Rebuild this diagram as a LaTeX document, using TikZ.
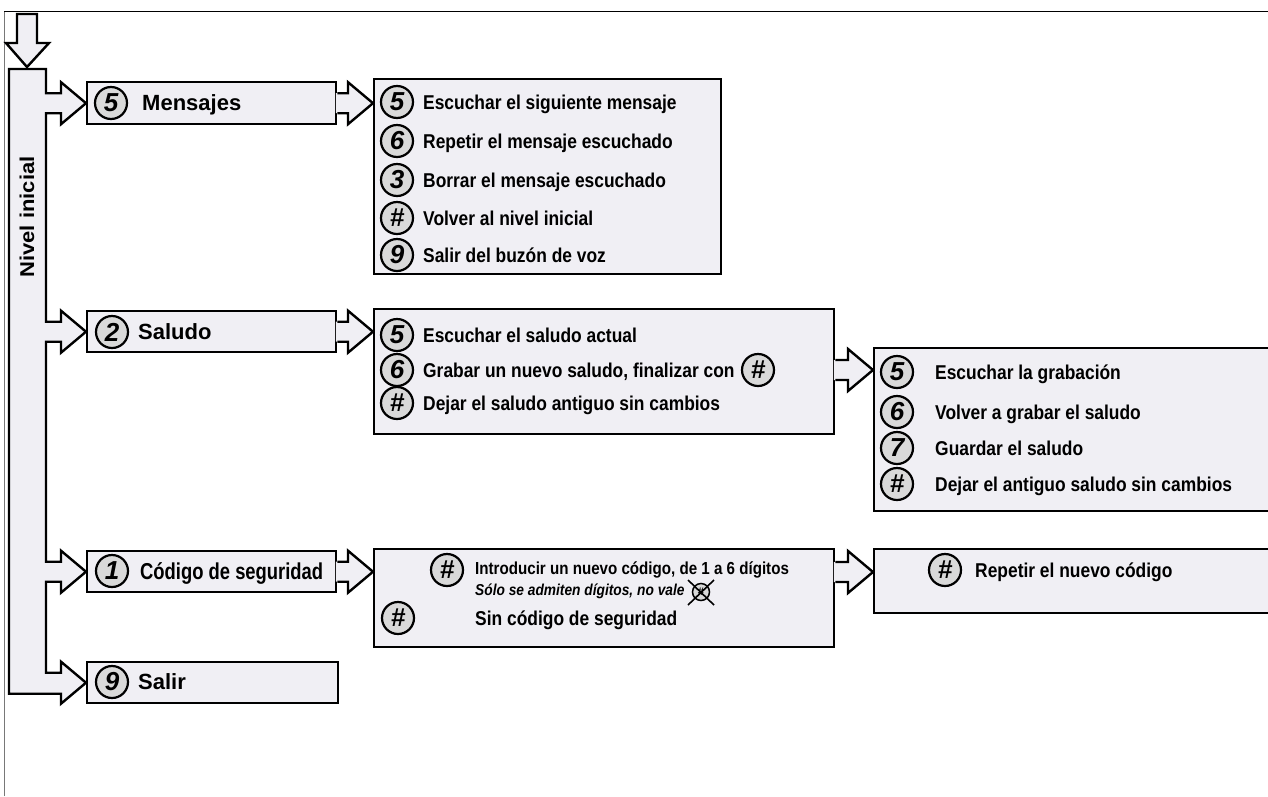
\documentclass[tikz,border=0pt]{standalone}
\usepackage{fontspec}
\setmainfont{Liberation Sans}
\newfontfamily\narrowfont{Liberation Sans}[FakeStretch=0.87]
\usetikzlibrary{calc}
\definecolor{boxfill}{RGB}{240,239,244}
\definecolor{numfill}{RGB}{217,217,217}
\definecolor{framec}{RGB}{120,120,120}
\tikzset{
  outl/.style={draw=black, line width=2.4pt, line join=miter},
  box/.style={rectangle, draw=black, fill=boxfill, line width=2.4pt, inner sep=0pt},
  num/.style={circle, draw=black, fill=numfill, line width=2.2pt, minimum size=32pt, inner sep=0pt, font=\fontsize{26}{26}\selectfont\bfseries\itshape},
  ttl/.style={anchor=base west, inner sep=0pt, font=\fontsize{22}{24}\selectfont\bfseries},
  lbl/.style={anchor=base west, inner sep=0pt, font=\narrowfont\fontsize{20}{22}\selectfont\bfseries},
  branch/.style={insert path={-- ($(#1.west)+(-40,-10)$) -- ($(#1.west)+(-25,-10)$) -- ($(#1.west)+(-25,-21)$) -- (#1.west) -- ($(#1.west)+(-25,21)$) -- ($(#1.west)+(-25,10)$) -- ($(#1.west)+(-40,10)$)}}
}
\newcommand\blockarr[2]{%
  \coordinate (bT) at (#1 -| #2.west);
  \fill[boxfill] ($(#1)+(-1.5,-10)$) -- ($(bT)+(-25,-10)$) -- ($(bT)+(-25,-21)$) -- (bT) -- ($(bT)+(-25,21)$) -- ($(bT)+(-25,10)$) -- ($(#1)+(-1.5,10)$) -- cycle;
  \draw[outl] ($(#1)+(0,-10)$) -- ($(bT)+(-25,-10)$) -- ($(bT)+(-25,-21)$) -- (bT) -- ($(bT)+(-25,21)$) -- ($(bT)+(-25,10)$) -- ($(#1)+(0,10)$);
}
\begin{document}
\begin{tikzpicture}[x=1pt,y=-1pt]
\useasboundingbox (0,0) rectangle (1268,796);
% frame
\draw[framec, line width=1pt] (4,796) -- (4,11);
\draw[black, line width=0.8pt] (4,11) -- (1268,11);
% entry arrow
\draw[outl, fill=boxfill] (17,14) -- (37,14) -- (37,43) -- (49,43) -- (27,67) -- (6,43) -- (17,43) -- cycle;

% main option boxes
\node[box, anchor=north west, minimum width=249pt, minimum height=42pt] (mens) at (86,81) {};
\node[box, anchor=north west, minimum width=249pt, minimum height=41pt] (salu) at (86,310) {};
\node[box, anchor=north west, minimum width=249pt, minimum height=41pt] (codi) at (86,550) {};
\node[box, anchor=north west, minimum width=251pt, minimum height=41pt] (salir) at (86,661) {};

% sub menus
\node[box, anchor=north west, minimum width=347pt, minimum height=195pt] (sub1) at (373,78) {};
\node[box, anchor=north west, minimum width=460pt, minimum height=125pt] (sub2) at (373,308) {};
\node[box, anchor=north west, minimum width=402pt, minimum height=163pt] (sub3) at (873,347) {};
\node[box, anchor=north west, minimum width=460pt, minimum height=98pt] (sub4) at (373,548) {};
\node[box, anchor=north west, minimum width=402pt, minimum height=64pt] (sub5) at (873,548) {};

% level bar with branches
\draw[outl, fill=boxfill] (9,69) -- (46,69) [branch=mens] [branch=salu] [branch=codi]
  -- ($(salir.west)+(-40,-10)$) -- ($(salir.west)+(-25,-10)$) -- ($(salir.west)+(-25,-21)$) -- (salir.west)
  -- ($(salir.west)+(-25,21)$) -- ($(salir.west)+(-25,11)$) -- ($(salir.west)+(-77,11)$) -- cycle;
\node[rotate=90, inner sep=0pt, font=\fontsize{20}{22}\selectfont\bfseries] (niv) at (27,217) {\scalebox{1.1}[1]{Nivel inicial}};

% block arrows
\coordinate (o1) at (mens.east);
\coordinate (o2) at (salu.east);
\coordinate (o3) at (codi.east);
\coordinate (o4) at ($(sub2.north east)+(0,62)$);
\coordinate (o5) at ($(sub4.north east)+(0,24)$);
\blockarr{o1}{sub1}
\blockarr{o2}{sub2}
\blockarr{o3}{sub4}
\blockarr{o4}{sub3}
\blockarr{o5}{sub5}

% main option labels
\node[num] (k5) at (111,103) {5};
\node[ttl] (t1) at (142,110.9) {Mensajes};
\node[num] (k2) at (112,332) {2};
\node[ttl] (t2) at (138,339.9) {Saludo};
\node[num] (k1) at (112,571) {1};
\node[ttl, font=\fontsize{23}{24}\selectfont\bfseries] (t3) at (140,579.2) {\scalebox{0.8}[1]{Código de seguridad}};
\node[num] (k9) at (112,682) {9};
\node[ttl] (t4) at (138,689.9) {Salir};

% sub1
\node[num] (a1) at (397,102) {5};
\node[lbl] (b1) at (423,109.2) {Escuchar el siguiente mensaje};
\node[num] (a2) at (397,141) {6};
\node[lbl] (b2) at (423,148.2) {Repetir el mensaje escuchado};
\node[num] (a3) at (397,180) {3};
\node[lbl] (b3) at (423,187.2) {Borrar el mensaje escuchado};
\node[num] (a4) at (397,218) {\#};
\node[lbl] (b4) at (423,225.2) {Volver al nivel inicial};
\node[num] (a5) at (397,255) {9};
\node[lbl] (b5) at (423,262.2) {Salir del buzón de voz};

% sub2
\node[num] (c1) at (397,335) {5};
\node[lbl] (d1) at (423,342.2) {Escuchar el saludo actual};
\node[num] (c2) at (397,370) {6};
\node[lbl] (d2) at (423,377.2) {Grabar un nuevo saludo, finalizar con};
\node[num] (c2b) at (758,370) {\#};
\node[num] (c3) at (397,403) {\#};
\node[lbl] (d3) at (423,410.2) {Dejar el saludo antiguo sin cambios};

% sub3
\node[num] (e1) at (897,372) {5};
\node[lbl] (f1) at (935,379.2) {Escuchar la grabación};
\node[num] (e2) at (897,412) {6};
\node[lbl] (f2) at (935,419.2) {Volver a grabar el saludo};
\node[num] (e3) at (897,448) {7};
\node[lbl] (f3) at (935,455.2) {Guardar el saludo};
\node[num] (e4) at (897,484) {\#};
\node[lbl] (f4) at (935,491.2) {Dejar el antiguo saludo sin cambios};

% sub4
\node[num] (g1) at (447,570) {\#};
\node[anchor=base west, inner sep=0pt, font=\narrowfont\fontsize{17.4}{19}\selectfont\bfseries] (h1) at (475,574.5) {Introducir un nuevo código, de 1 a 6 dígitos};
\node[anchor=base west, inner sep=0pt, font=\narrowfont\fontsize{15.8}{17}\selectfont\bfseries\itshape] (h1b) at (475,595) {Sólo se admiten dígitos, no vale};
\node[circle, draw=black, fill=numfill, line width=1.5pt, minimum size=17pt, inner sep=0pt, font=\fontsize{11}{11}\selectfont\bfseries] (xc) at (701,592) {\#};
\draw[black, line width=1.6pt] ($(xc)+(-13,-12)$) -- ($(xc)+(13,13)$);
\draw[black, line width=1.6pt] ($(xc)+(13,-12)$) -- ($(xc)+(-13,13)$);
\node[num] (g2) at (398,618) {\#};
\node[lbl] (h2) at (475,625.2) {Sin código de seguridad};

% sub5
\node[num] (i1) at (945,570) {\#};
\node[lbl] (j1) at (975,577.2) {Repetir el nuevo código};
\end{tikzpicture}
\end{document}
